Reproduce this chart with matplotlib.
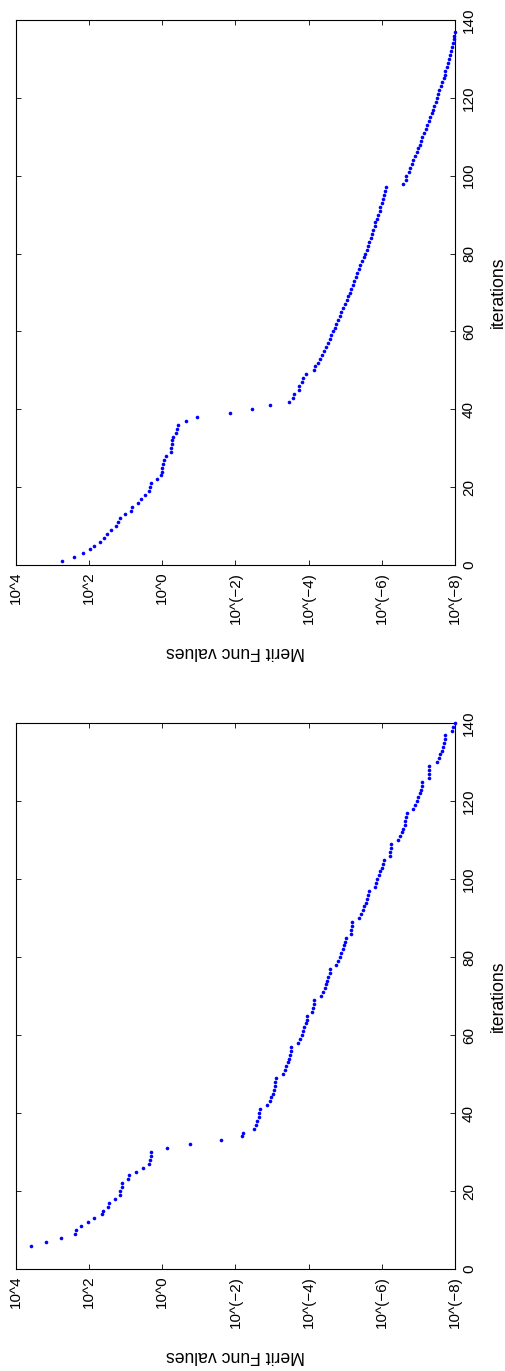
import matplotlib
matplotlib.use("Agg")
import matplotlib.pyplot as plt
from matplotlib.ticker import FixedLocator, FixedFormatter, NullLocator
import numpy as np

plt.rcParams['font.family'] = ['Liberation Sans', 'DejaVu Sans']

# ---------------- data (log10 of merit function values) ----------------
iters_a = list(range(1, 138))
log_merit_a = [
    2.75, 2.41, 2.17, 1.98, 1.86, 1.71, 1.59, 1.50, 1.41, 1.26,
    1.22, 1.15, 1.01, 0.86, 0.83, 0.67, 0.59, 0.48, 0.36, 0.34,
    0.30, 0.15, 0.04, 0.02, 0.00, -0.03, -0.05, -0.09, -0.23, -0.245,
    -0.26, -0.27, -0.29, -0.37, -0.40, -0.43, -0.65, -0.96, -1.85, -2.44,
    -2.95, -3.45, -3.58, -3.61, -3.73, -3.74, -3.83, -3.84, -3.93, -4.15,
    -4.18, -4.25, -4.31, -4.37, -4.42, -4.47, -4.52, -4.57, -4.62, -4.67,
    -4.72, -4.76, -4.81, -4.85, -4.89, -4.94, -4.99, -5.04, -5.08, -5.12,
    -5.17, -5.21, -5.25, -5.29, -5.32, -5.37, -5.41, -5.46, -5.50, -5.54,
    -5.59, -5.62, -5.66, -5.70, -5.73, -5.76, -5.80, -5.82, -5.87, -5.90,
    -5.94, -5.96, -6.01, -6.03, -6.07, -6.08, -6.11,
    -6.58, -6.65, -6.67,
    -6.74, -6.76, -6.83, -6.85, -6.91, -6.95, -7.00, -7.04, -7.07, -7.11,
    -7.15, -7.20, -7.24, -7.28, -7.32, -7.36, -7.39, -7.43, -7.47, -7.51,
    -7.54, -7.57, -7.62, -7.65, -7.69, -7.72, -7.74, -7.78, -7.82, -7.84,
    -7.87, -7.90, -7.92, -7.94, -7.97, -7.98, -8.00,
]

iters_b = list(range(6, 141))
log_merit_b = [
    3.59, 3.19, 2.78, 2.40, 2.36, 2.23, 2.03, 1.86, 1.64, 1.61,
    1.48, 1.45, 1.29, 1.17, 1.15, 1.11, 1.10, 0.94, 0.90, 0.73,
    0.53, 0.37, 0.35, 0.32, 0.30, -0.13, -0.75, -1.59, -2.18, -2.20,
    -2.50, -2.56, -2.60, -2.64, -2.65, -2.67, -2.87, -2.93, -2.97, -3.02,
    -3.04, -3.07, -3.09, -3.10, -3.30, -3.35, -3.39, -3.43, -3.46, -3.50,
    -3.53, -3.53, -3.71, -3.76, -3.81, -3.85, -3.88, -3.92, -3.95, -3.95,
    -4.10, -4.13, -4.14, -4.15, -4.34, -4.39, -4.45, -4.47, -4.51, -4.54,
    -4.57, -4.58, -4.75, -4.81, -4.85, -4.89, -4.93, -4.96, -4.98, -5.01,
    -5.15, -5.17, -5.19, -5.19, -5.38, -5.44, -5.49, -5.52, -5.56, -5.59,
    -5.61, -5.64, -5.80, -5.84, -5.88, -5.92, -5.96, -6.00, -6.03, -6.06,
    -6.22, -6.22, -6.24, -6.24, -6.45, -6.50, -6.54, -6.58, -6.62, -6.64,
    -6.67, -6.68, -6.86, -6.91, -6.95, -6.99, -7.03, -7.06, -7.10, -7.10,
    -7.28, -7.28, -7.29, -7.30, -7.50, -7.55, -7.59, -7.64, -7.67, -7.70,
    -7.73, -7.73, -7.92, -7.94, -8.00,
]

merit_ticks = [1e4, 1e2, 1e0, 1e-2, 1e-4, 1e-6, 1e-8]
merit_tick_labels = ["10^4", "10^2", "10^0", "10^(\u22122)", "10^(\u22124)",
                     "10^(\u22126)", "10^(\u22128)"]
iter_ticks = [0, 20, 40, 60, 80, 100, 120, 140]
iter_tick_labels = ["0", "20", "40", "60", "80", "100", "120", "140"]

x_label = "Merit Func values"
y_label = "iterations"

# ---------------- figure ----------------
W, H = 506, 1371
fig = plt.figure(figsize=(W / 100, H / 100), dpi=100)
axA = fig.add_axes([16 / W, 1 - 565 / H, 439 / W, 545 / H])
axB = fig.add_axes([16 / W, 1 - 1269 / H, 439 / W, 545.7 / H])

for ax, it, lg in [(axA, iters_a, log_merit_a), (axB, iters_b, log_merit_b)]:
    ax.plot(10.0 ** np.array(lg), it, linestyle='none', marker='o', ms=2.6,
            mfc=(0, 0, 1), mec=(0, 0, 1), mew=0, clip_on=False, zorder=3)
    ax.set_xscale('log')
    ax.set_xlim(1e4, 1e-8)
    ax.set_ylim(0, 140)
    ax.xaxis.set_major_locator(FixedLocator(merit_ticks))
    ax.xaxis.set_major_formatter(FixedFormatter(merit_tick_labels))
    ax.xaxis.set_minor_locator(NullLocator())
    ax.yaxis.set_major_locator(FixedLocator(iter_ticks))
    ax.yaxis.set_major_formatter(FixedFormatter(iter_tick_labels))
    ax.yaxis.set_minor_locator(NullLocator())
    ax.tick_params(axis='both', which='major', direction='in', length=3.6,
                   width=0.6, color='black', top=True, bottom=True, left=True,
                   right=True, labelleft=False, labelright=True,
                   labelbottom=True, labeltop=False, labelsize=11)
    ax.tick_params(axis='x', pad=4.8, labelrotation=90)
    ax.tick_params(axis='y', pad=5, labelrotation=90)
    for sp in ax.spines.values():
        sp.set_linewidth(0.8)
        sp.set_color('black')

    ax.set_xlabel(x_label, fontsize=12.7)
    ax.xaxis.label.set_rotation(180)
    ax.xaxis.label.set_rotation_mode('anchor')
    ax.xaxis.label.set_va('bottom')
    ax.xaxis.label.set_ha('center')
    ax.xaxis.set_label_coords(0.5, -0.143)

    ax.yaxis.set_label_position('right')
    ax.set_ylabel(y_label, fontsize=12.7)
    ax.yaxis.set_label_coords(1.0797, 0.5)

    for lab in ax.yaxis.get_majorticklabels():
        lab.set_va('center')
        lab.set_ha('left')

fig.savefig("out.png", dpi=100)
